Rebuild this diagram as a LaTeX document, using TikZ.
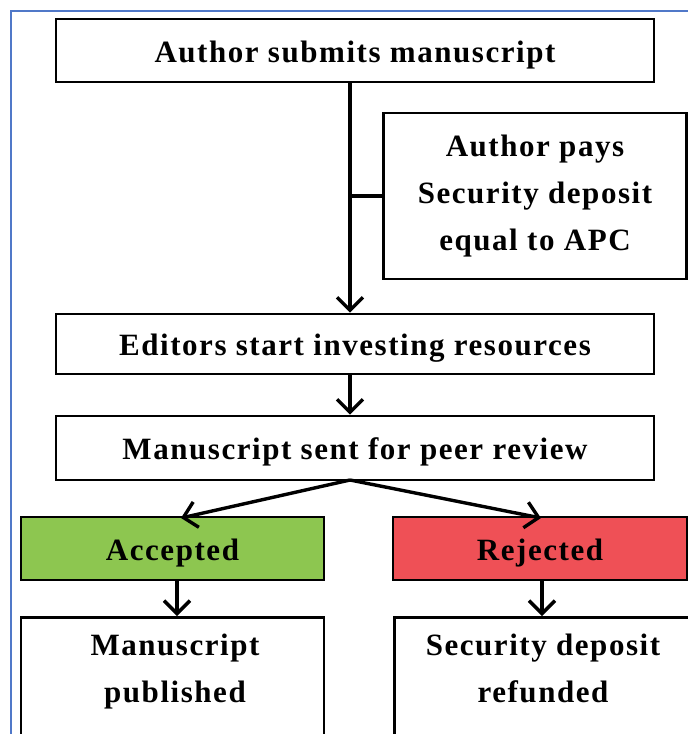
\documentclass[tikz,border=0pt]{standalone}
\usepackage{fontspec}
\setmainfont{Liberation Serif}[LetterSpace=5]
\usetikzlibrary{arrows.meta}
\definecolor{frameblue}{RGB}{80,120,200}
\definecolor{accgreen}{RGB}{141,198,80}
\definecolor{rejred}{RGB}{239,80,86}
\tikzset{
  label text/.style={align=center, inner sep=0pt, font=\fontsize{31}{47}\selectfont\bfseries},
  box/.style={label text, draw=black, line width=2.6pt, fill=white},
  oneline/.style={box, text height=28pt, text depth=5pt},
  flow/.style={line width=3.4pt, -{Straight Barb[length=13pt, width=26pt, line width=3.4pt]}},
  tie/.style={line width=3.4pt}
}
\begin{document}
\begin{tikzpicture}[x=1pt, y=-1pt]
\useasboundingbox (0,0) rectangle (688,734);
\begin{scope}
\clip (0,0) rectangle (688,734);
% page frame
\draw[frameblue, line width=1.6pt] (11,740) -- (11,11) -- (700,11);

% process boxes
\node[oneline, minimum width=598pt, minimum height=63pt] (submit) at (355,50.5) {Author submits manuscript};
\node[box, minimum width=303pt, minimum height=166pt] (pay) at (535,196) {Author pays\\Security deposit\\equal to APC};
\node[oneline, minimum width=598pt, minimum height=60pt] (invest) at (355,344) {Editors start investing resources};
\node[oneline, minimum width=598pt, minimum height=64pt] (review) at (355,448) {Manuscript sent for peer review};
\node[oneline, fill=accgreen, minimum width=303pt, minimum height=63pt] (acc) at (172.5,548.5) {Accepted};
\node[oneline, fill=rejred, minimum width=294pt, minimum height=63pt] (rej) at (540,548.5) {Rejected};
\node[box, minimum width=303pt, minimum height=150pt, anchor=north] (pub) at (172.5,616) {};
\node[box, minimum width=303pt, minimum height=150pt, anchor=north west] (ref) at (393,616) {};
\node[label text, anchor=north] (pubtext) at (175,634) {Manuscript\\published};
\node[label text, anchor=north] (reftext) at (543,634) {Security deposit\\refunded};

% connectors
\coordinate (split) at (350,196);
\draw[flow] (submit.south -| split) -- (invest.north -| split);
\draw[tie] (split) -- (pay.west);
\draw[flow] (invest.south -| split) -- (review.north -| split);
\coordinate (fork) at (350,480);
\draw[flow] (fork) -- (181,518);
\draw[flow] (fork) -- (541,518);
\draw[flow] (acc.south -| 177,0) -- (pub.north -| 177,0);
\draw[flow] (rej.south -| 542,0) -- (ref.north -| 542,0);
\end{scope}
\end{tikzpicture}
\end{document}
